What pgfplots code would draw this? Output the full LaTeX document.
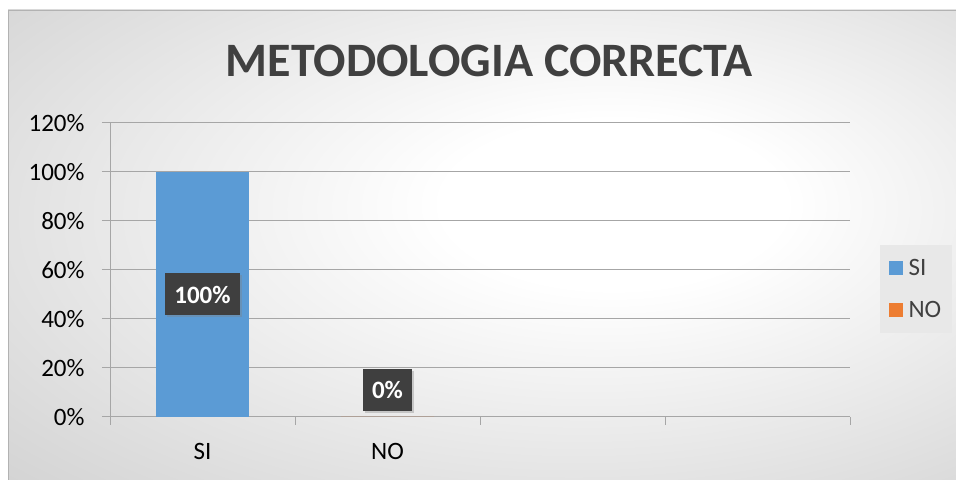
\documentclass[border=0pt]{standalone}
\usepackage{fontspec}
\setmainfont{Carlito}
\usepackage{pgfplots}
\pgfplotsset{compat=1.18}
\usetikzlibrary{shadows}

\definecolor{siblue}{HTML}{5B9BD5}
\definecolor{noorange}{HTML}{ED7D31}
\definecolor{gridgray}{HTML}{A6A6A6}
\definecolor{titlegray}{HTML}{404040}
\definecolor{labelbox}{HTML}{3F3F3F}

\pgfdeclareradialshading{bgshade}{\pgfpoint{8bp}{5bp}}{%
  color(0bp)=(white); color(9bp)=(white); color(45bp)=(black!20); color(70bp)=(black!24)}

\begin{document}
\begin{tikzpicture}[x=1bp,y=1bp]
\useasboundingbox (0,0) rectangle (956,480);
\fill[white] (0,0) rectangle (956,480);
\shade[shading=bgshade] (8,0) rectangle (956,470);
\draw[black!30] (8,0) -- (8,470) -- (956,470);

\begin{axis}[
    at={(110bp,63bp)},
    anchor=south west,
    scale only axis,
    width=740bp,
    height=294bp,
    xmin=-0.5, xmax=3.5,
    ymin=0, ymax=120,
    axis lines*=left,
    axis line style={draw=gridgray, line width=1pt, -},
    ytick={0,20,...,120},
    yticklabels={0\%,20\%,40\%,60\%,80\%,100\%,120\%},
    ymajorgrids,
    grid style={draw=gridgray, line width=1pt},
    xtick={-0.5,0.5,1.5,2.5,3.5},
    xticklabels={},
    extra x ticks={0,1},
    extra x tick labels={SI,NO},
    extra x tick style={major tick length=0pt, grid=none},
    tick align=outside,
    major tick length=8bp,
    tick style={draw=gridgray, line width=1pt},
    ticklabel style={font=\fontsize{25bp}{30bp}\selectfont, text=black},
    yticklabel style={xshift=-14bp},
    xticklabel style={yshift=-23bp},
    title={METODOLOGIA CORRECTA},
    title style={at={(0.5128,1)}, anchor=base, yshift=41bp,
                 font=\fontsize{48bp}{56bp}\selectfont\bfseries, text=titlegray},
    legend style={at={(1.089,0.435)}, anchor=center, draw=none, fill=black!9,
                  font=\fontsize{25bp}{30bp}\selectfont, text=titlegray,
                  inner xsep=9bp, inner ysep=12bp, row sep=20bp, column sep=4bp},
    legend cell align=left,
    legend image code/.code={\fill[#1] (0bp,-7bp) rectangle (14bp,7bp);},
]
\addplot[ybar, bar width=93bp, bar shift=0pt, fill=siblue, draw=none]
    coordinates {(0,100)};
\addlegendentry{SI}
\addplot[ybar, bar width=93bp, bar shift=0pt, fill=noorange, draw=none]
    coordinates {(1,0)};
\addlegendentry{NO}
% data labels
\addplot[draw=none, mark=none, forget plot,
    nodes near coords, point meta=explicit symbolic,
    every node near coord/.append style={anchor=center, fill=labelbox, text=white,
        font=\fontsize{25bp}{30bp}\selectfont\bfseries, inner xsep=9bp,
        minimum height=42bp, text depth=0pt,
        drop shadow={shadow xshift=2bp, shadow yshift=-2bp, opacity=0.35}}]
    coordinates {(0,50) [100\%] (1,11.2) [0\%]};
\end{axis}
\end{tikzpicture}
\end{document}
